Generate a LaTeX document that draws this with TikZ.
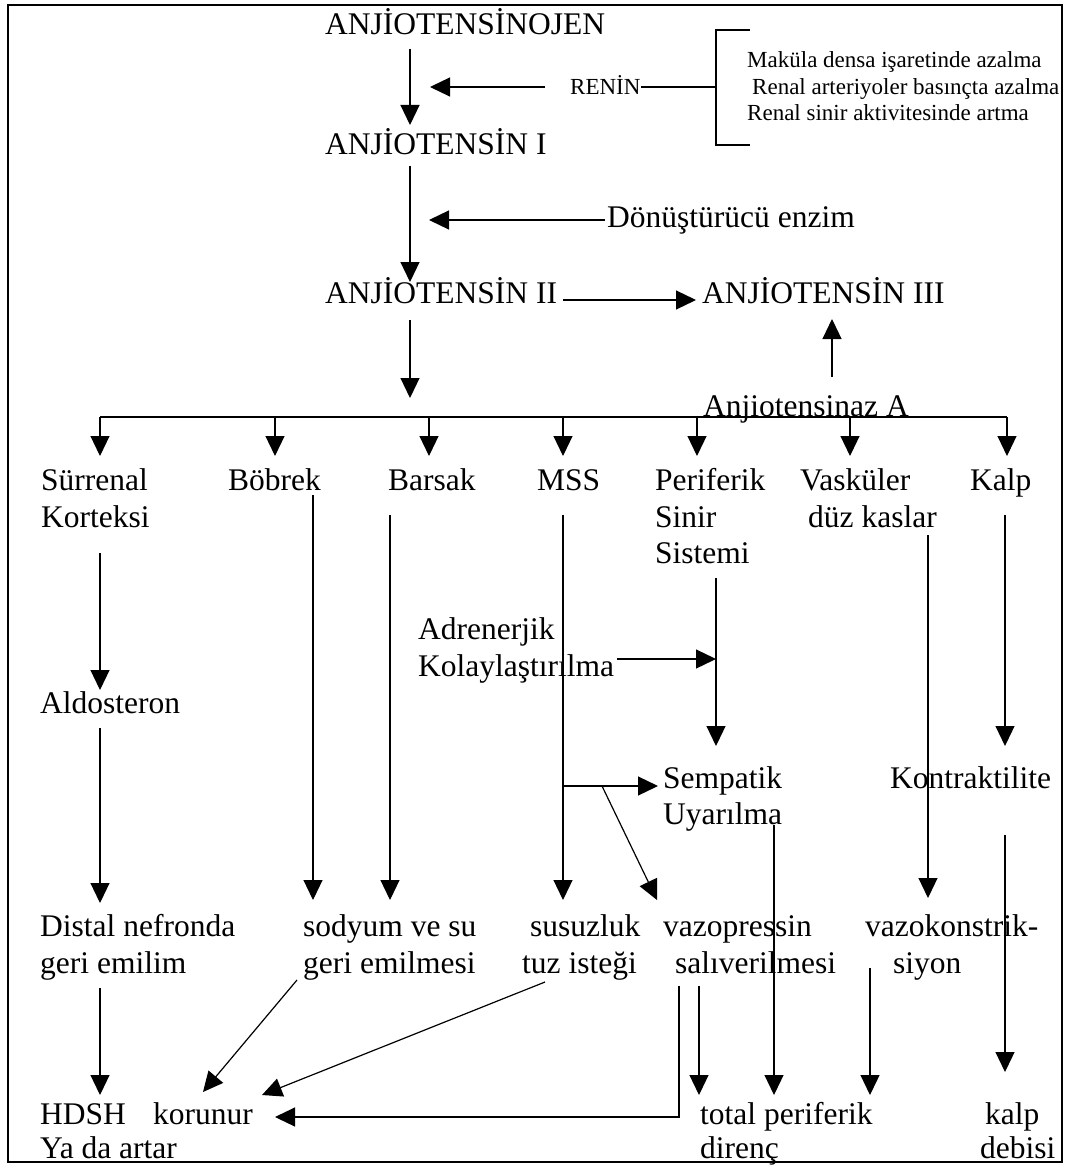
\documentclass[tikz,border=0pt]{standalone}
\usepackage{fontspec}
\setmainfont{Liberation Serif}
\usetikzlibrary{arrows.meta}
\begin{document}
\begin{tikzpicture}[x=1pt,y=-1pt,
  txt/.style={anchor=base west, inner sep=0pt, font=\fontsize{31.5}{36}\selectfont},
  sm/.style={anchor=base west, inner sep=0pt, font=\fontsize{23}{26}\selectfont},
  ln/.style={line width=1.2pt},
  arr/.style={ln, -{Triangle[length=20pt,width=19pt]}}]
\useasboundingbox (0,0) rectangle (1074,1166);
\draw[line width=1.6pt] (8,5) rectangle (1062,1162);

% top chain
\node[txt] (agen) at (325,35) {ANJİOTENSİNOJEN};
\node[txt] (a1) at (325,155) {ANJİOTENSİN I};
\node[txt] (a2) at (325,303) {ANJİOTENSİN II};
\node[txt] (a3) at (702,303) {ANJİOTENSİN III};
\node[sm] (renin) at (570,95) {RENİN};
\node[sm] (m1) at (747,68) {Maküla densa işaretinde azalma};
\node[sm] (m2) at (752,95) {Renal arteriyoler basınçta azalma};
\node[sm] (m3) at (747,121) {Renal sinir aktivitesinde artma};
\node[txt] (donus) at (607,228) {Dönüştürücü enzim};
\node[txt] (anjaz) at (703,416) {Anjiotensinaz A};

\coordinate (g1) at (410,49);  \coordinate (g2) at (410,125);
\coordinate (r1) at (545,87);  \coordinate (r2) at (430,87);
\coordinate (r3) at (641,87);  \coordinate (bm) at (716,87);
\coordinate (bt) at (716,30);  \coordinate (btr) at (750,30);
\coordinate (bb) at (716,145); \coordinate (bbr) at (750,145);
\coordinate (i1) at (410,166); \coordinate (i2) at (410,282);
\coordinate (d1) at (605,220); \coordinate (d2) at (429,220);
\coordinate (ii1) at (563,300); \coordinate (ii2) at (696,300);
\coordinate (u1) at (832,377); \coordinate (u2) at (832,319);
\coordinate (v1) at (410,320); \coordinate (v2) at (410,398);
\coordinate (busL) at (100,417); \coordinate (busR) at (1007,417);

\draw[arr] (g1) -- (g2);
\draw[arr] (r1) -- (r2);
\draw[ln] (r3) -- (bm);
\draw[ln] (btr) -- (bt) -- (bb) -- (bbr);
\draw[arr] (i1) -- (i2);
\draw[arr] (d1) -- (d2);
\draw[arr] (ii1) -- (ii2);
\draw[arr] (u1) -- (u2);
\draw[arr] (v1) -- (v2);
\draw[ln] (busL) -- (busR);
\foreach \x/\n in {100/b1,275/b2,429/b3,563/b4,697/b5,850/b6,1007/b7}{
  \coordinate (\n t) at (\x,417); \coordinate (\n h) at (\x,456);
  \draw[arr] (\n t) -- (\n h);
}

% row of organs
\node[txt] (sur1) at (41,490) {Sürrenal};
\node[txt] (sur2) at (41,527) {Korteksi};
\node[txt] (bob) at (228,490) {Böbrek};
\node[txt] (bar) at (388,490) {Barsak};
\node[txt] (mss) at (537,490) {MSS};
\node[txt] (per1) at (655,490) {Periferik};
\node[txt] (per2) at (655,527) {Sinir};
\node[txt] (per3) at (655,563) {Sistemi};
\node[txt] (vas1) at (800,490) {Vasküler};
\node[txt] (vas2) at (808,527) {düz kaslar};
\node[txt] (kalp) at (970,490) {Kalp};

% middle
\node[txt] (ald) at (40,713) {Aldosteron};
\node[txt] (adr1) at (418,639) {Adrenerjik};
\node[txt] (adr2) at (418,676) {Kolaylaştırılma};
\node[txt] (sem1) at (663,788) {Sempatik};
\node[txt] (sem2) at (663,824) {Uyarılma};
\node[txt] (kon) at (890,788) {Kontraktilite};

% lower row
\node[txt] (dis1) at (40,936) {Distal nefronda};
\node[txt] (dis2) at (40,973) {geri emilim};
\node[txt] (sod1) at (303,936) {sodyum ve su};
\node[txt] (sod2) at (303,973) {geri emilmesi};
\node[txt] (sus1) at (530,936) {susuzluk};
\node[txt] (sus2) at (522,973) {tuz isteği};
\node[txt] (vaz1) at (663,936) {vazopressin};
\node[txt] (vaz2) at (675,973) {salıverilmesi};
\node[txt] (vk1) at (865,936) {vazokonstrik-};
\node[txt] (vk2) at (893,973) {siyon};

% bottom row
\node[txt] (hd1) at (40,1124) {HDSH};
\node[txt] (hd2) at (40,1158) {Ya da artar};
\node[txt] (kor) at (153,1124) {korunur};
\node[txt] (tp1) at (700,1124) {total periferik};
\node[txt] (tp2) at (700,1158) {direnç};
\node[txt] (kd1) at (985,1124) {kalp};
\node[txt] (kd2) at (980,1158) {debisi};

% connectors
\coordinate (s1) at (100,553); \coordinate (s2) at (100,690);
\coordinate (s3) at (100,728); \coordinate (s4) at (100,903);
\coordinate (s5) at (100,988); \coordinate (s6) at (100,1095);
\draw[arr] (s1) -- (s2);
\draw[arr] (s3) -- (s4);
\draw[arr] (s5) -- (s6);

\coordinate (bo1) at (313,495); \coordinate (bo2) at (313,900);
\draw[arr] (bo1) -- (bo2);
\coordinate (ba1) at (390,515); \coordinate (ba2) at (390,900);
\draw[arr] (ba1) -- (ba2);
\coordinate (ms1) at (563,515); \coordinate (ms2) at (563,900);
\draw[arr] (ms1) -- (ms2);
\coordinate (pe1) at (716,578); \coordinate (pe2) at (716,746);
\draw[arr] (pe1) -- (pe2);
\coordinate (ad1) at (617,659); \coordinate (ad2) at (716,659);
\draw[arr] (ad1) -- (ad2);
\coordinate (se0) at (563,786); \coordinate (se1) at (658,786);
\draw[arr] (se0) -- (se1);
\coordinate (dg0) at (602,786); \coordinate (dg1) at (657,900);
\draw[arr] (dg0) -- (dg1);
\coordinate (uy1) at (774,825); \coordinate (uy2) at (774,1095);
\draw[arr] (uy1) -- (uy2);
\coordinate (va1) at (928,535); \coordinate (va2) at (928,898);
\draw[arr] (va1) -- (va2);
\coordinate (ka1) at (1005,515); \coordinate (ka2) at (1005,746);
\draw[arr] (ka1) -- (ka2);
\coordinate (ko1) at (1005,835); \coordinate (ko2) at (1005,1072);
\draw[arr] (ko1) -- (ko2);
\coordinate (vk0) at (870,968); \coordinate (vkh) at (870,1095);
\draw[arr] (vk0) -- (vkh);
\coordinate (so0) at (297,980); \coordinate (soh) at (203,1092);
\draw[arr] (so0) -- (soh);
\coordinate (tu0) at (545,982); \coordinate (tuh) at (262,1095);
\draw[arr] (tu0) -- (tuh);
\coordinate (sa0) at (679,986); \coordinate (sac) at (679,1117); \coordinate (sah) at (275,1117);
\draw[arr] (sa0) -- (sac) -- (sah);
\coordinate (sb0) at (699,986); \coordinate (sbh) at (699,1095);
\draw[arr] (sb0) -- (sbh);
\end{tikzpicture}
\end{document}
